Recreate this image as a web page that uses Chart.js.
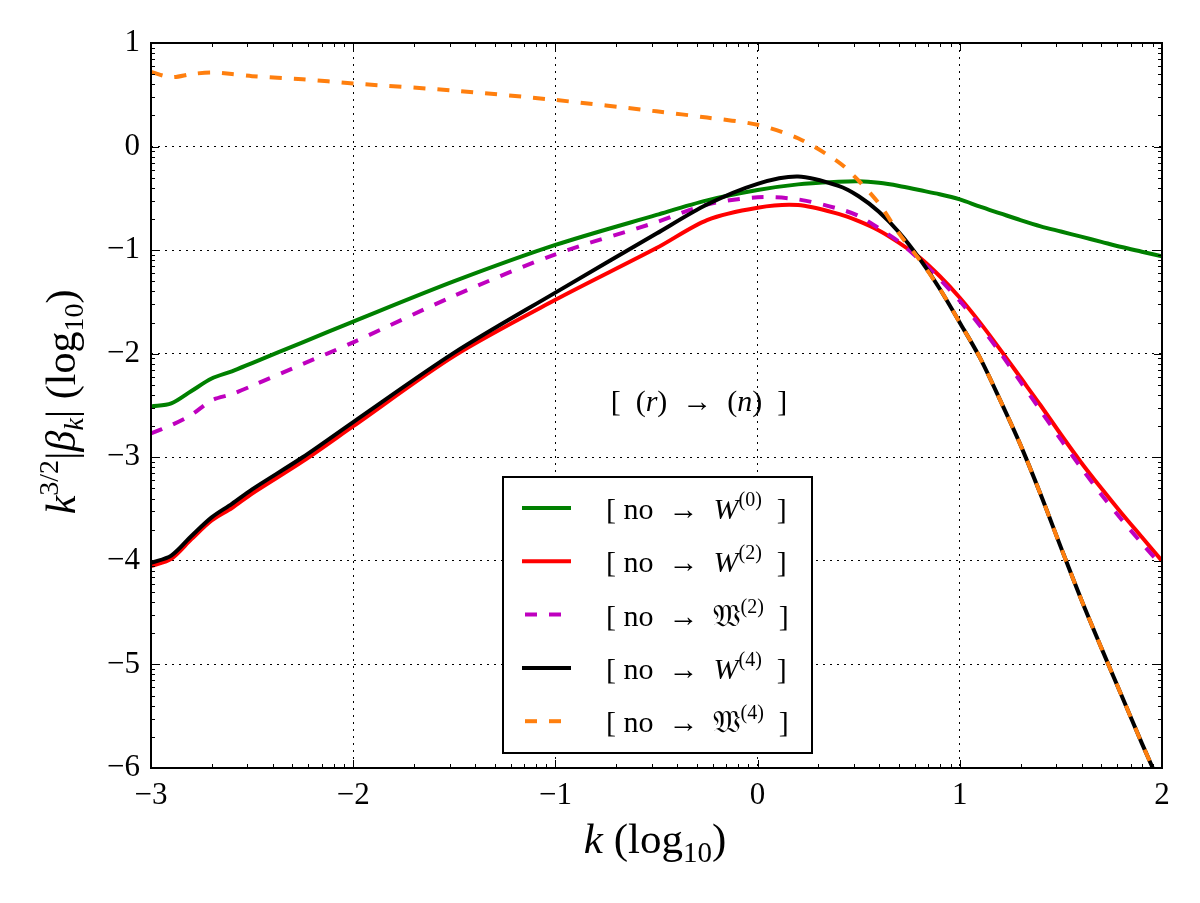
<!DOCTYPE html>
<html>
<head>
<meta charset="utf-8">
<script src="https://cdn.jsdelivr.net/npm/chart.js@4.4.0/dist/chart.umd.min.js"></script>
<style>
  html, body { margin: 0; padding: 0; background: #fff; }
</style>
</head>
<body>
<canvas id="spectrum" width="1200" height="903"></canvas>
<script>
// k values (log10) shared by every curve
const kValues = [-3, -2.9, -2.8, -2.7, -2.6, -2.5, -2.25, -2, -1.5, -1, -0.5, -0.25, 0, 0.2, 0.4, 0.5, 0.6, 0.7, 0.8, 0.9, 1.0, 1.1, 1.2, 1.3, 1.4, 1.5, 1.6, 1.7, 1.8, 1.9, 2.0];

// log10 of k^{3/2}|beta_k| for each transition
const noToW0 = [-2.51, -2.48, -2.36, -2.24, -2.17, -2.09, -1.89, -1.69, -1.30, -0.95, -0.66, -0.52, -0.42, -0.365, -0.34, -0.335, -0.35, -0.38, -0.42, -0.46, -0.51, -0.58, -0.645, -0.71, -0.77, -0.82, -0.87, -0.92, -0.97, -1.015, -1.06];
const noToW2 = [-4.05, -3.98, -3.79, -3.61, -3.49, -3.35, -3.04, -2.70, -2.02, -1.48, -0.98, -0.71, -0.59, -0.565, -0.65, -0.72, -0.81, -0.93, -1.07, -1.25, -1.46, -1.70, -1.96, -2.23, -2.50, -2.78, -3.05, -3.30, -3.54, -3.77, -4.00];
const noToFrakW2 = [-2.77, -2.69, -2.59, -2.45, -2.39, -2.31, -2.10, -1.89, -1.44, -1.04, -0.73, -0.56, -0.49, -0.51, -0.60, -0.67, -0.79, -0.92, -1.09, -1.28, -1.49, -1.73, -1.99, -2.27, -2.55, -2.83, -3.10, -3.36, -3.60, -3.83, -4.05];
const noToW4 = [-4.02, -3.95, -3.76, -3.58, -3.45, -3.31, -3.00, -2.66, -1.99, -1.41, -0.84, -0.56, -0.36, -0.29, -0.38, -0.48, -0.63, -0.83, -1.08, -1.37, -1.70, -2.04, -2.45, -2.88, -3.36, -3.87, -4.37, -4.84, -5.30, -5.76, -6.20];
const noToFrakW4 = [0.72, 0.67, 0.70, 0.715, 0.70, 0.68, 0.65, 0.61, 0.54, 0.45, 0.34, 0.28, 0.21, 0.08, -0.15, -0.33, -0.55, -0.84, -1.09, -1.37, -1.70, -2.04, -2.45, -2.88, -3.36, -3.87, -4.37, -4.84, -5.30, -5.76, -6.20];

// axis ticks
const xTicks = [-3, -2, -1, 0, 1, 2];
const yTicks = [1, 0, -1, -2, -3, -4, -5, -6];

// legend pieces: symbol and its order
const legendSymbols = ['W', 'W', '\u{1D51A}', 'W', '\u{1D51A}'];
const legendOrders = ['0', '2', '2', '4', '4'];

const SERIF = '"Liberation Serif", "DejaVu Serif", serif';

function fmt(v) {
    return v < 0 ? '\u2212' + Math.abs(v) : String(v);
}

function segFont(s) {
    return (s.it ? 'italic ' : '') + s.size + 'px ' + SERIF;
}

function richWidth(ctx, segs) {
    let w = 0;
    for (const s of segs) {
        ctx.font = segFont(s);
        w += ctx.measureText(s.t).width;
    }
    return w;
}

// draws a line of text made of pieces (italic, sub/superscript)
function drawRich(ctx, segs, x, y, align) {
    let cx = align === 'center' ? x - richWidth(ctx, segs) / 2 : x;
    ctx.textAlign = 'left';
    ctx.textBaseline = 'alphabetic';
    for (const s of segs) {
        ctx.font = segFont(s);
        ctx.fillText(s.t, cx, y + (s.dy || 0));
        cx += ctx.measureText(s.t).width;
    }
}

function toPoints(values) {
    return values.map((v, i) => ({ x: kValues[i], y: v }));
}

function makeSet(label, values, color, dash, order) {
    return {
        label: label,
        data: toPoints(values),
        borderColor: color,
        backgroundColor: color,
        borderWidth: 4,
        borderDash: dash,
        borderCapStyle: 'butt',
        pointRadius: 0,
        tension: 0.3,
        fill: false,
        clip: 0,
        order: order
    };
}

// frame, inward ticks (major + log minor), titles and legend
const decorations = {
    id: 'decorations',
    afterDatasetsDraw(chart) {
        const ctx = chart.ctx;
        const a = chart.chartArea;
        const xs = chart.scales.x;
        const ys = chart.scales.y;
        ctx.save();
        ctx.strokeStyle = '#000';
        ctx.lineWidth = 1;
        ctx.beginPath();
        const minor = [2, 3, 4, 5, 6, 7, 8, 9].map(m => Math.log10(m));
        for (let n = -3; n < 2; n++) {
            for (const f of minor) {
                const px = Math.round(xs.getPixelForValue(n + f)) + 0.5;
                ctx.moveTo(px, a.bottom); ctx.lineTo(px, a.bottom - 4);
                ctx.moveTo(px, a.top); ctx.lineTo(px, a.top + 4);
            }
        }
        for (let n = -6; n < 1; n++) {
            for (const f of minor) {
                const py = Math.round(ys.getPixelForValue(n + f)) + 0.5;
                ctx.moveTo(a.left, py); ctx.lineTo(a.left + 4, py);
                ctx.moveTo(a.right, py); ctx.lineTo(a.right - 4, py);
            }
        }
        for (const v of xTicks) {
            const px = Math.round(xs.getPixelForValue(v)) + 0.5;
            ctx.moveTo(px, a.bottom); ctx.lineTo(px, a.bottom - 8);
            ctx.moveTo(px, a.top); ctx.lineTo(px, a.top + 8);
        }
        for (const v of yTicks) {
            const py = Math.round(ys.getPixelForValue(v)) + 0.5;
            ctx.moveTo(a.left, py); ctx.lineTo(a.left + 8, py);
            ctx.moveTo(a.right, py); ctx.lineTo(a.right - 8, py);
        }
        ctx.stroke();
        ctx.lineWidth = 2;
        ctx.strokeRect(a.left, a.top, a.right - a.left, a.bottom - a.top);
        ctx.restore();
    },
    afterDraw(chart) {
        const ctx = chart.ctx;
        ctx.save();
        ctx.fillStyle = '#000';

        // x title
        drawRich(ctx, [
            { t: 'k', it: true, size: 43 },
            { t: ' (log', size: 43 },
            { t: '10', size: 29, dy: 9 },
            { t: ')', size: 43 }
        ], 655, 853, 'center');

        // y title
        ctx.save();
        ctx.translate(75, 402);
        ctx.rotate(-Math.PI / 2);
        drawRich(ctx, [
            { t: 'k', it: true, size: 42 },
            { t: '3/2', size: 28, dy: -17 },
            { t: '|', size: 42 },
            { t: '\u03B2', it: true, size: 42 },
            { t: 'k', it: true, size: 28, dy: 8 },
            { t: '| (log', size: 42 },
            { t: '10', size: 28, dy: 8 },
            { t: ')', size: 42 }
        ], 0, 0, 'center');
        ctx.restore();

        // annotation
        drawRich(ctx, [
            { t: '[  (', size: 30 },
            { t: 'r', it: true, size: 30 },
            { t: ')  \u2192  (', size: 30 },
            { t: 'n', it: true, size: 30 },
            { t: ')  ]', size: 30 }
        ], 699, 411, 'center');

        // legend box
        const bx = 503, by = 477, bw = 309, bh = 276;
        ctx.fillStyle = '#fff';
        ctx.fillRect(bx, by, bw, bh);
        ctx.strokeStyle = '#000';
        ctx.lineWidth = 2;
        ctx.strokeRect(bx, by, bw, bh);
        chart.data.datasets.forEach((ds, i) => {
            const cy = 508 + i * 53.3;
            ctx.save();
            ctx.strokeStyle = ds.borderColor;
            ctx.lineWidth = 4;
            ctx.lineCap = 'butt';
            ctx.setLineDash(ds.borderDash || []);
            ctx.beginPath();
            ctx.moveTo(ds.borderDash.length ? 525 : 522, cy);
            ctx.lineTo(571, cy);
            ctx.stroke();
            ctx.restore();
            ctx.fillStyle = '#000';
            const isFrak = legendSymbols[i] !== 'W';
            drawRich(ctx, [
                { t: '[ no  \u2192  ', size: 30 },
                { t: legendSymbols[i], it: !isFrak, size: 30 },
                { t: '(' + legendOrders[i] + ')', size: 20, dy: -13 },
                { t: '  ]', size: 30 }
            ], 606, cy + 11, 'left');
        });
        ctx.restore();
    }
};

const ctx = document.getElementById('spectrum');

new Chart(ctx, {
    type: 'line',
    data: {
        datasets: [
            makeSet('[ no \u2192 W(0) ]', noToW0, '#008000', [], 5),
            makeSet('[ no \u2192 W(2) ]', noToW2, '#ff0000', [], 4),
            makeSet('[ no \u2192 \u{1D51A}(2) ]', noToFrakW2, '#bf00bf', [12, 12], 3),
            makeSet('[ no \u2192 W(4) ]', noToW4, '#000000', [], 2),
            makeSet('[ no \u2192 \u{1D51A}(4) ]', noToFrakW4, '#ff7f0e', [12, 12], 1)
        ]
    },
    options: {
        responsive: false,
        animation: false,
        layout: { padding: { top: 43, right: 38, left: 0, bottom: 0 } },
        plugins: {
            legend: { display: false },
            tooltip: { enabled: false }
        },
        scales: {
            x: {
                type: 'linear',
                min: -3,
                max: 2,
                afterBuildTicks: s => { s.ticks = xTicks.map(v => ({ value: v })); },
                afterFit: s => { s.height = 135; },
                ticks: {
                    color: '#000',
                    padding: 9,
                    maxRotation: 0,
                    font: { family: SERIF, size: 31 },
                    callback: v => fmt(v)
                },
                grid: { color: '#000', lineWidth: 1, drawTicks: false },
                border: { display: false, dash: [2, 5] }
            },
            y: {
                type: 'linear',
                min: -6,
                max: 1,
                afterBuildTicks: s => { s.ticks = yTicks.map(v => ({ value: v })); },
                afterFit: s => { s.width = 151; },
                ticks: {
                    color: '#000',
                    padding: 11,
                    font: { family: SERIF, size: 31 },
                    callback: v => fmt(v)
                },
                grid: { color: '#000', lineWidth: 1, drawTicks: false },
                border: { display: false, dash: [2, 5] }
            }
        }
    },
    plugins: [decorations]
});
</script>
</body>
</html>
